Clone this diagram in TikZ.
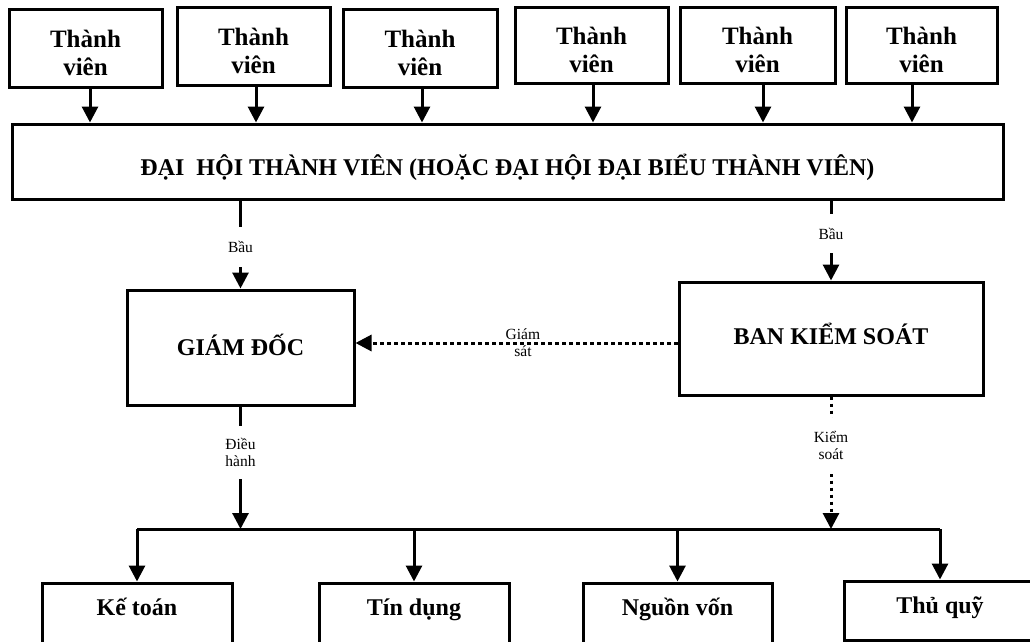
\documentclass[tikz,border=0pt]{standalone}
\usepackage{fontspec}
\setmainfont{Liberation Serif}
\usetikzlibrary{arrows.meta}
\begin{document}
\begin{tikzpicture}[x=1pt,y=-1pt,
  box/.style={draw, line width=3pt, inner sep=0pt, align=center, font=\bfseries\fontsize{24}{28}\selectfont},
  mbox/.style={box, font=\bfseries\fontsize{25}{28}\selectfont, text height=54pt, text depth=0pt},
  conn/.style={line width=3pt},
  arr/.style={line width=3pt, -{Triangle[length=16pt,width=16pt]}},
  dotarr/.style={arr, dash pattern=on 3.3pt off 3.7pt},
  lbl/.style={font=\fontsize{15.5}{17}\selectfont, align=center, inner sep=0pt},
  gap/.style={lbl, fill=white}
]
\useasboundingbox (0,0) rectangle (1030,642);
\clip (0,0) rectangle (1030,642);

% member boxes
\node[mbox, minimum width=153pt, minimum height=77pt] (m1) at (85.5,48.5) {Thành\\viên};
\node[mbox, minimum width=153pt, minimum height=77pt] (m2) at (253.5,46.5) {Thành\\viên};
\node[mbox, minimum width=154pt, minimum height=77pt] (m3) at (420,48.5) {Thành\\viên};
\node[mbox, minimum width=153pt, minimum height=75pt] (m4) at (591.5,45.5) {Thành\\viên};
\node[mbox, minimum width=155pt, minimum height=75pt] (m5) at (757.5,45.5) {Thành\\viên};
\node[mbox, minimum width=151pt, minimum height=75pt] (m6) at (921.5,45.5) {Thành\\viên};

% general assembly
\node[box, minimum width=991pt, minimum height=75pt, text height=27pt, text depth=0pt] (dh) at (507.5,161.5) {ĐẠI\ \ HỘI THÀNH VIÊN (HOẶC ĐẠI HỘI ĐẠI BIỂU THÀNH VIÊN)};

% director and supervisory board
\node[box, minimum width=227pt, minimum height=115pt, text height=15pt, text depth=0pt] (gd) at (240.5,347.5) {GIÁM ĐỐC};
\node[box, minimum width=304pt, minimum height=113pt, text height=11pt, text depth=0pt] (bks) at (831,338.5) {BAN KIỂM SOÁT};

% departments
\node[box, minimum width=190pt, minimum height=61pt, text height=3pt, text depth=0pt] (kt) at (137,613.5) {Kế toán};
\node[box, minimum width=190pt, minimum height=61pt, text height=3pt, text depth=0pt] (td) at (414,613.5) {Tín dụng};
\node[box, minimum width=189pt, minimum height=61pt, text height=3pt, text depth=0pt] (nv) at (677.5,613.5) {Nguồn vốn};
\node[box, minimum width=192pt, minimum height=59pt, text height=5pt, text depth=0pt] (tq) at (940,610.5) {Thủ quỹ};

% member arrows
\foreach \m/\dx in {m1/4.5, m2/2.5, m3/2, m4/1.5, m5/5.5, m6/-9.5}{
  \draw[arr] ([xshift=\dx pt]\m.south) -- ([xshift=\dx pt]\m.south |- dh.north);
}

% elections
\draw[arr] (gd.north |- dh.south) -- (gd.north) node[gap, pos=0.527, minimum height=40pt] {Bầu};
\draw[arr] (bks.north |- dh.south) -- (bks.north) node[gap, pos=0.416, minimum height=39pt] {Bầu};

% supervision
\draw[dotarr] ([yshift=-4.5pt]bks.west) -- ([yshift=-4.5pt]bks.west -| gd.east)
  node[lbl, pos=0.48] {Giám\\sát};

% bus
\coordinate (busL) at (137,529);
\draw[conn] (kt.north |- busL) -- (tq.north |- busL);
\draw[arr] (gd.south) -- (gd.south |- busL) node[gap, pos=0.375, minimum height=53pt] {Điều\\hành};
\draw[dotarr] (bks.south) -- (bks.south |- busL) node[gap, pos=0.373, minimum height=56pt] {Kiểm\\soát};

\foreach \b in {kt, td, nv, tq}{
  \draw[arr] (\b.north |- busL) -- (\b.north);
}
\end{tikzpicture}
\end{document}
